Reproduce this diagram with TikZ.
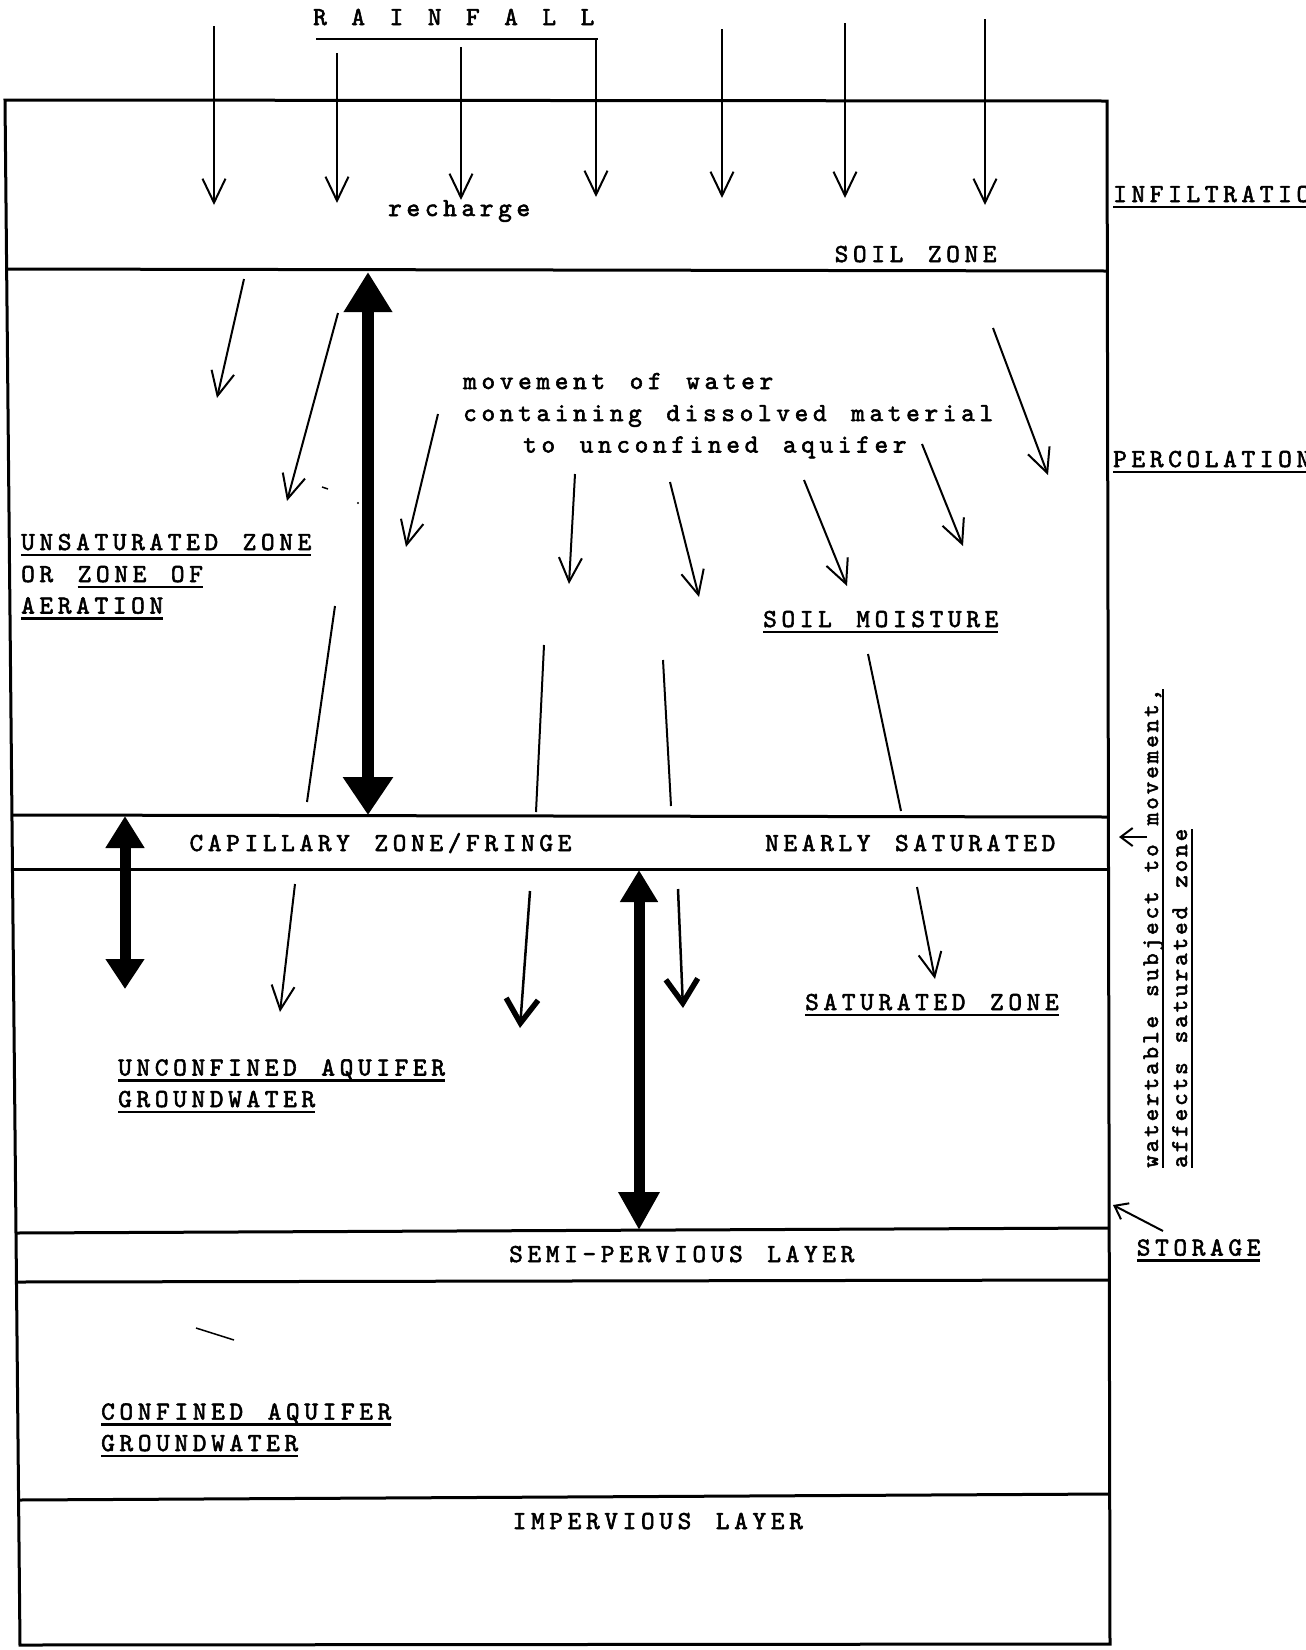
\documentclass[tikz,border=0pt]{standalone}
\usepackage{fontspec}
\usetikzlibrary{arrows.meta}
\newfontfamily\tw[LetterSpace=18,WordSpace=1.34,FakeBold=2.2]{lmmono10-regular.otf}
\newfontfamily\twv[LetterSpace=12,WordSpace=1.23,FakeBold=2.2]{lmmono10-regular.otf}
\newsavebox\ulbox
\newcommand\ulx[1]{\sbox\ulbox{#1}\rlap{\rule[-6pt]{\wd\ulbox}{2.3pt}}\usebox\ulbox}
\tikzset{
  boxline/.style={line width=3pt},
  flow/.style={line width=2pt,-{Straight Barb[length=24pt,width=23pt]}},
  smallflow/.style={line width=2pt,-{Straight Barb[length=12pt,width=18pt]}},
  heavyflow/.style={line width=2.5pt,-{Straight Barb[length=24pt,width=32pt,line width=5.5pt]}},
  plainline/.style={line width=2pt},
  bigA/.style={line width=12pt,{Triangle[length=40pt,width=46pt]}-{Triangle[length=38pt,width=48pt]}},
  bigB/.style={line width=11pt,{Triangle[length=32pt,width=37pt]}-{Triangle[length=30pt,width=37pt]}},
  bigC/.style={line width=11pt,{Triangle[length=32pt,width=36pt]}-{Triangle[length=38pt,width=39pt]}},
  lbl/.style={font=\tw\fontsize{26}{31}\selectfont,inner sep=0pt,anchor=base west},
  vlbl/.style={font=\twv\fontsize{24}{29}\selectfont,inner sep=0pt,anchor=base west,rotate=90}
}
\begin{document}
\begin{tikzpicture}[x=1pt,y=-1pt]
\path[use as bounding box] (0,0) rectangle (1306,1650);
\clip (0,0) rectangle (1306,1650);
\fill[white] (0,0) rectangle (1306,1650);

% frame corners and layer boundaries
\coordinate (tl) at (5,100);    \coordinate (tr) at (1107,101);
\coordinate (bl) at (20,1645);  \coordinate (br) at (1110,1644);
\coordinate (s1) at (6.6,269);  \coordinate (s2) at (1107.3,271);
\coordinate (c1) at (12,815);   \coordinate (c2) at (1108.4,817);
\coordinate (d1) at (12.5,869); \coordinate (d2) at (1108.5,869);
\coordinate (p1) at (16,1233);  \coordinate (p2) at (1109.2,1228);
\coordinate (q1) at (16.5,1282);\coordinate (q2) at (1109.3,1280);
\coordinate (i1) at (18.6,1500);\coordinate (i2) at (1109.7,1494);

\draw[boxline] (tl) -- (tr) -- (br) -- (bl) -- cycle;
\foreach \a/\b in {s1/s2,c1/c2,d1/d2,p1/p2,q1/q2,i1/i2}
  \draw[boxline] (\a) -- (\b);

% rainfall
\node[lbl] (rain) at (313,25) {R A I N F A L L};
\coordinate (ua) at (316,39); \coordinate (ub) at (598,39);
\draw[line width=2.5pt] (ua) -- (ub);
\foreach \i/\x/\ya/\yb in {1/214/26/205,2/337/53/203,3/461/47/200,4/596/39/197,5/722/29/198,6/845/23/198,7/985/19/205}{
  \coordinate (r\i a) at (\x,\ya); \coordinate (r\i b) at (\x,\yb);
  \draw[flow] (r\i a) -- (r\i b);
}

% percolation arrows
\foreach \i/\xa/\ya/\xb/\yb in {1/244/279/217/398,2/338/313/287/501,3/438/414/406/547,4/575/474/569/584,5/670/482/699/597,6/804/480/847/586,7/922/444/963/546,8/993/328/1048/475,9/295/884/280/1012,12/917/887/935/979}{
  \coordinate (f\i a) at (\xa,\ya); \coordinate (f\i b) at (\xb,\yb);
  \draw[flow] (f\i a) -- (f\i b);
}
\foreach \i/\xa/\ya/\xb/\yb in {10/530/891/520/1028,11/678/889/683/1008}{
  \coordinate (f\i a) at (\xa,\ya); \coordinate (f\i b) at (\xb,\yb);
  \draw[heavyflow] (f\i a) -- (f\i b);
}
\foreach \i/\xa/\ya/\xb/\yb in {1/335/606/307/802,2/544/645/536/812,3/663/660/671/806,4/868/654/901/811}{
  \coordinate (l\i a) at (\xa,\ya); \coordinate (l\i b) at (\xb,\yb);
  \draw[plainline] (l\i a) -- (l\i b);
}

% big double arrows
\coordinate (Aa) at (368,272); \coordinate (Ab) at (368,815);
\coordinate (Ba) at (125,816); \coordinate (Bb) at (125,989);
\coordinate (Ca) at (639,870); \coordinate (Cb) at (639,1230);
\draw[bigA] (Aa) -- (Ab);
\draw[bigB] (Ba) -- (Bb);
\draw[bigC] (Ca) -- (Cb);

% stray marks
\draw[line width=1.5pt] (322,487) -- (328,489);
\fill (358,503) circle (1.2pt);
\draw[line width=1.5pt] (196,1328) -- (234,1340);

% labels
\node[lbl] (rech) at (388,216) {recharge};
\node[lbl] (soil) at (834.5,262) {SOIL ZONE};
\node[lbl] (infil) at (1113,202) {\ulx{INFILTRATION}};
\node[lbl] (perc) at (1113,467) {\ulx{PERCOLATION}};
\node[lbl] (mov1) at (463,389) {movement of water};
\node[lbl] (mov2) at (463,421) {containing dissolved material};
\node[lbl] (mov3) at (523,452.5) {to unconfined aquifer};
\node[lbl] (uns1) at (21,550) {\ulx{UNSATURATED ZONE}};
\node[lbl] (uns2) at (21,582) {OR \ulx{ZONE OF}};
\node[lbl] (uns3) at (21,613.5) {\ulx{AERATION}};
\node[lbl] (smoist) at (763,627) {\ulx{SOIL MOISTURE}};
\node[lbl] (cap) at (189.4,851) {CAPILLARY ZONE/FRINGE};
\node[lbl] (near) at (765,851) {NEARLY SATURATED};
\node[lbl] (satz) at (805,1010) {\ulx{SATURATED ZONE}};
\node[lbl] (unc1) at (118,1075.5) {\ulx{UNCONFINED AQUIFER}};
\node[lbl] (unc2) at (118,1107) {\ulx{GROUNDWATER}};
\node[lbl] (semi) at (509,1262) {SEMI-PERVIOUS LAYER};
\node[lbl] (con1) at (101,1419.6) {\ulx{CONFINED AQUIFER}};
\node[lbl] (con2) at (101,1451) {\ulx{GROUNDWATER}};
\node[lbl] (imp) at (512.5,1529) {IMPERVIOUS LAYER};
\node[lbl] (stor) at (1136.6,1255.5) {\ulx{STORAGE}};
\node[vlbl] (wt1) at (1158,1168) {\ulx{watertable subject to movement,}};
\node[vlbl] (wt2) at (1187,1168) {\ulx{affects saturated zone}};

% side arrows
\coordinate (wa) at (1147,837); \coordinate (wb) at (1119,837);
\draw[smallflow] (wa) -- (wb);
\coordinate (sa) at (1163,1231); \coordinate (sb) at (1113,1205);
\draw[smallflow] (sa) -- (sb);
\end{tikzpicture}
\end{document}
